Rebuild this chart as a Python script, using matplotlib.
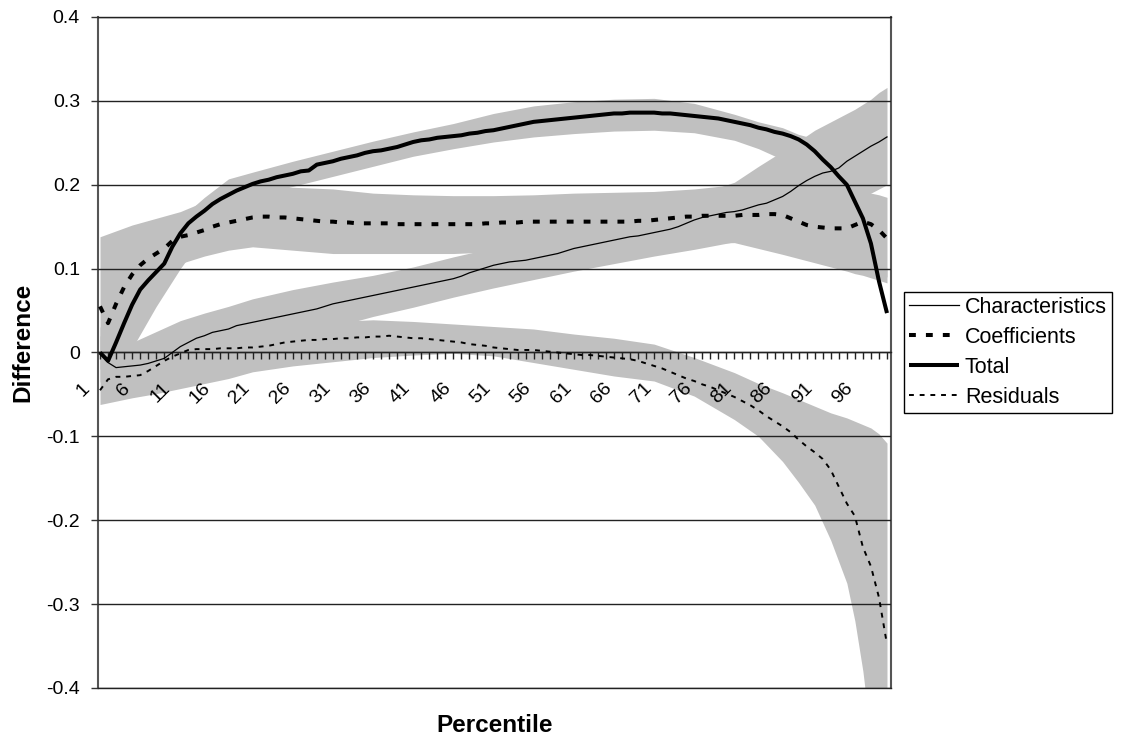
import matplotlib
matplotlib.use("Agg")
import matplotlib.pyplot as plt
import matplotlib.transforms as mtransforms
from matplotlib.ticker import FuncFormatter, FixedLocator

plt.rcParams['font.family'] = ['Liberation Sans', 'DejaVu Sans']
plt.rcParams['axes.unicode_minus'] = False

percentile = list(range(1, 100))

characteristics = [
    0.000, -0.012, -0.018, -0.017, -0.016, -0.015, -0.013, -0.010, -0.007, 0.000,
    0.007, 0.012, 0.017, 0.020, 0.024, 0.026, 0.028, 0.032, 0.034, 0.036,
    0.038, 0.040, 0.042, 0.044, 0.046, 0.048, 0.050, 0.052, 0.055, 0.058,
    0.060, 0.062, 0.064, 0.066, 0.068, 0.070, 0.072, 0.074, 0.076, 0.078,
    0.080, 0.082, 0.084, 0.086, 0.088, 0.091, 0.095, 0.098, 0.101, 0.104,
    0.106, 0.108, 0.109, 0.110, 0.112, 0.114, 0.116, 0.118, 0.121, 0.124,
    0.126, 0.128, 0.130, 0.132, 0.134, 0.136, 0.138, 0.139, 0.141, 0.143,
    0.145, 0.147, 0.150, 0.154, 0.158, 0.161, 0.163, 0.165, 0.167, 0.168,
    0.170, 0.173, 0.176, 0.178, 0.182, 0.186, 0.192, 0.199, 0.205, 0.210,
    0.214, 0.216, 0.220, 0.228, 0.234, 0.240, 0.246, 0.251, 0.257]

coefficients = [
    0.055, 0.035, 0.058, 0.078, 0.093, 0.104, 0.112, 0.118, 0.124, 0.133,
    0.138, 0.140, 0.143, 0.146, 0.150, 0.153, 0.155, 0.157, 0.159, 0.161,
    0.162, 0.162, 0.161, 0.161, 0.160, 0.159, 0.158, 0.157, 0.156, 0.156,
    0.155, 0.155, 0.154, 0.154, 0.154, 0.154, 0.154, 0.153, 0.153, 0.153,
    0.153, 0.153, 0.153, 0.153, 0.153, 0.153, 0.153, 0.153, 0.154, 0.154,
    0.155, 0.155, 0.155, 0.156, 0.156, 0.156, 0.156, 0.156, 0.156, 0.156,
    0.156, 0.156, 0.156, 0.156, 0.156, 0.156, 0.156, 0.157, 0.157, 0.158,
    0.159, 0.160, 0.161, 0.162, 0.162, 0.163, 0.163, 0.163, 0.163, 0.163,
    0.164, 0.164, 0.164, 0.165, 0.165, 0.164, 0.160, 0.156, 0.152, 0.150,
    0.149, 0.148, 0.148, 0.148, 0.152, 0.156, 0.153, 0.146, 0.136]

total = [
    0.000, -0.010, 0.012, 0.035, 0.057, 0.075, 0.086, 0.096, 0.106, 0.126,
    0.142, 0.154, 0.162, 0.169, 0.177, 0.183, 0.188, 0.193, 0.197, 0.201,
    0.204, 0.206, 0.209, 0.211, 0.213, 0.216, 0.217, 0.224, 0.226, 0.228,
    0.231, 0.233, 0.235, 0.238, 0.240, 0.241, 0.243, 0.245, 0.248, 0.251,
    0.253, 0.254, 0.256, 0.257, 0.258, 0.259, 0.261, 0.262, 0.264, 0.265,
    0.267, 0.269, 0.271, 0.273, 0.275, 0.276, 0.277, 0.278, 0.279, 0.280,
    0.281, 0.282, 0.283, 0.284, 0.285, 0.285, 0.286, 0.286, 0.286, 0.286,
    0.285, 0.285, 0.284, 0.283, 0.282, 0.281, 0.280, 0.279, 0.277, 0.275,
    0.273, 0.271, 0.268, 0.266, 0.263, 0.261, 0.258, 0.254, 0.248, 0.240,
    0.230, 0.221, 0.210, 0.200, 0.180, 0.160, 0.130, 0.085, 0.047]

residuals = [
    -0.045, -0.032, -0.029, -0.029, -0.028, -0.027, -0.022, -0.016, -0.010, -0.005,
    -0.001, 0.003, 0.004, 0.004, 0.004, 0.005, 0.005, 0.005, 0.006, 0.006,
    0.007, 0.008, 0.010, 0.012, 0.013, 0.014, 0.015, 0.015, 0.016, 0.016,
    0.017, 0.017, 0.018, 0.018, 0.019, 0.019, 0.020, 0.019, 0.018, 0.017,
    0.017, 0.016, 0.015, 0.014, 0.013, 0.012, 0.010, 0.009, 0.008, 0.006,
    0.005, 0.004, 0.003, 0.003, 0.003, 0.002, 0.001, 0.000, -0.001, -0.002,
    -0.003, -0.003, -0.004, -0.005, -0.006, -0.007, -0.008, -0.010, -0.013, -0.016,
    -0.019, -0.023, -0.027, -0.031, -0.034, -0.038, -0.041, -0.045, -0.049, -0.053,
    -0.058, -0.063, -0.069, -0.076, -0.082, -0.088, -0.095, -0.104, -0.112, -0.119,
    -0.127, -0.140, -0.160, -0.180, -0.195, -0.232, -0.255, -0.292, -0.348]

# Confidence bands (read at selected percentiles)
band_pct = [1, 3, 5, 8, 11, 14, 17, 20, 25, 30, 35, 40, 45, 50, 55, 60, 65, 70,
            75, 80, 83, 86, 88, 90, 92, 94, 95, 96, 97, 98, 99]

total_lo = [-0.020, -0.020, 0.005, 0.055, 0.100, 0.140, 0.165, 0.185, 0.198, 0.210,
            0.222, 0.234, 0.243, 0.251, 0.257, 0.261, 0.264, 0.265, 0.262, 0.253,
            0.243, 0.230, 0.220, 0.205, 0.185, 0.160, 0.140, 0.120, 0.100, 0.095, 0.090]
total_hi = [0.030, 0.060, 0.085, 0.125, 0.160, 0.185, 0.207, 0.215, 0.228, 0.240,
            0.252, 0.263, 0.273, 0.285, 0.294, 0.299, 0.302, 0.303, 0.297, 0.284,
            0.275, 0.268, 0.260, 0.255, 0.240, 0.220, 0.200, 0.180, 0.160, 0.130, 0.100]

coef_lo = [-0.020, 0.000, 0.040, 0.085, 0.106, 0.115, 0.122, 0.126, 0.122, 0.118,
           0.118, 0.118, 0.118, 0.120, 0.122, 0.124, 0.126, 0.128, 0.130, 0.131,
           0.124, 0.117, 0.112, 0.107, 0.102, 0.097, 0.094, 0.092, 0.089, 0.086, 0.083]
coef_hi = [0.138, 0.145, 0.152, 0.160, 0.168, 0.180, 0.190, 0.195, 0.197, 0.195,
           0.190, 0.188, 0.187, 0.187, 0.188, 0.190, 0.191, 0.192, 0.195, 0.200,
           0.200, 0.200, 0.198, 0.195, 0.192, 0.190, 0.190, 0.190, 0.190, 0.188, 0.185]

char_lo = [-0.035, -0.040, -0.038, -0.032, -0.020, -0.008, 0.000, 0.008, 0.020, 0.030,
           0.043, 0.054, 0.066, 0.077, 0.087, 0.097, 0.106, 0.115, 0.123, 0.132,
           0.138, 0.145, 0.152, 0.160, 0.168, 0.176, 0.180, 0.185, 0.190, 0.195, 0.200]
char_hi = [0.020, 0.010, 0.012, 0.025, 0.038, 0.047, 0.055, 0.064, 0.075, 0.084,
           0.092, 0.102, 0.114, 0.125, 0.137, 0.150, 0.163, 0.175, 0.187, 0.203,
           0.222, 0.240, 0.252, 0.265, 0.275, 0.285, 0.290, 0.296, 0.302, 0.310, 0.316]

resid_lo = [-0.062, -0.058, -0.054, -0.049, -0.043, -0.037, -0.031, -0.023, -0.016, -0.011,
            -0.006, -0.003, -0.001, -0.004, -0.012, -0.020, -0.028, -0.034, -0.052, -0.080,
            -0.100, -0.130, -0.155, -0.182, -0.224, -0.275, -0.320, -0.380, -0.460, -0.560, -0.700]
resid_hi = [-0.020, -0.005, 0.000, 0.008, 0.015, 0.020, 0.025, 0.030, 0.034, 0.037,
            0.039, 0.037, 0.034, 0.031, 0.028, 0.022, 0.017, 0.010, -0.006, -0.024,
            -0.037, -0.048, -0.056, -0.064, -0.072, -0.078, -0.082, -0.086, -0.090, -0.097, -0.108]

y_ticks = [-0.4, -0.3, -0.2, -0.1, 0.0, 0.1, 0.2, 0.3, 0.4]
x_label_ticks = list(range(1, 100, 5))

BAND = '#C0C0C0'
DPI = 100
fig = plt.figure(figsize=(11.25, 7.42), dpi=DPI)
ax = fig.add_axes([98/1125, 1-688/742, (891-98)/1125, (688-17)/742])

for lo, hi in [(resid_lo, resid_hi), (char_lo, char_hi), (coef_lo, coef_hi), (total_lo, total_hi)]:
    ax.fill_between(band_pct, lo, hi, color=BAND, linewidth=0, zorder=1)

ax.plot(percentile, characteristics, color='black', lw=0.9, zorder=3, label='Characteristics')
ax.plot(percentile, coefficients, color='black', lw=2.9, ls=(0, (1.7, 2.5)), zorder=3,
        label='Coefficients')
ax.plot(percentile, total, color='black', lw=2.9, zorder=3, label='Total',
        solid_capstyle='butt')
ax.plot(percentile, residuals, color='black', lw=1.4, ls=(0, (2.5, 3.0)), zorder=3,
        label='Residuals')

ax.set_xlim(0.75, 99.5)
ax.set_ylim(-0.4, 0.4)
ax.set_axisbelow(False)

# y axis
ax.set_yticks(y_ticks)
ax.yaxis.set_major_formatter(FuncFormatter(lambda v, p: '0' if abs(v) < 1e-9 else f'{v:.1f}'))
ax.tick_params(axis='y', direction='out', length=5, width=1, color='#333333',
               labelsize=14, pad=8)
ax.yaxis.grid(True, color='#222222', lw=1.0)

# x axis at zero
ax.spines['bottom'].set_position(('data', 0))
ax.spines['bottom'].set_color('#222222')
ax.spines['bottom'].set_linewidth(1.0)
ax.spines['bottom'].set_zorder(2.6)
for s in ['left', 'right']:
    ax.spines[s].set_color('#555555')
    ax.spines[s].set_linewidth(1.5)
ax.spines['top'].set_color('#222222')
ax.spines['top'].set_linewidth(1.0)
ax.axhline(-0.4, color='#222222', lw=1.0, clip_on=False, zorder=2.6)

ax.xaxis.set_major_locator(FixedLocator(x_label_ticks))
ax.xaxis.set_minor_locator(FixedLocator([p for p in percentile if p not in x_label_ticks]))
ax.tick_params(axis='x', which='both', direction='out', length=5, width=1, color='#222222')
ax.tick_params(axis='x', which='major', labelsize=14, pad=19)
ax.set_xticklabels([str(v) for v in x_label_ticks])
offset = mtransforms.ScaledTranslation(-13/DPI, 0, fig.dpi_scale_trans)
for lbl in ax.get_xticklabels():
    lbl.set_rotation(45)
    lbl.set_rotation_mode('anchor')
    lbl.set_ha('right')
    lbl.set_va('center')
    lbl.set_transform(lbl.get_transform() + offset)

ax.set_xlabel('Percentile', fontsize=17.5, fontweight='bold', va='center')
ax.xaxis.set_label_coords(0.5, (688-725)/671)
ax.set_ylabel('Difference', fontsize=17.5, fontweight='bold', va='center')
ax.yaxis.set_label_coords((22.5-98)/793, (688-342)/671)

leg = fig.legend(loc='upper left', bbox_to_anchor=(904/1125, 1-292/742),
                 fontsize=15.5, frameon=True, fancybox=False, framealpha=1,
                 edgecolor='black', handlelength=2.33, handletextpad=0.28,
                 borderpad=0.22, labelspacing=0.42, borderaxespad=0)
leg.get_frame().set_linewidth(1.0)

fig.savefig('out.png', dpi=DPI)
